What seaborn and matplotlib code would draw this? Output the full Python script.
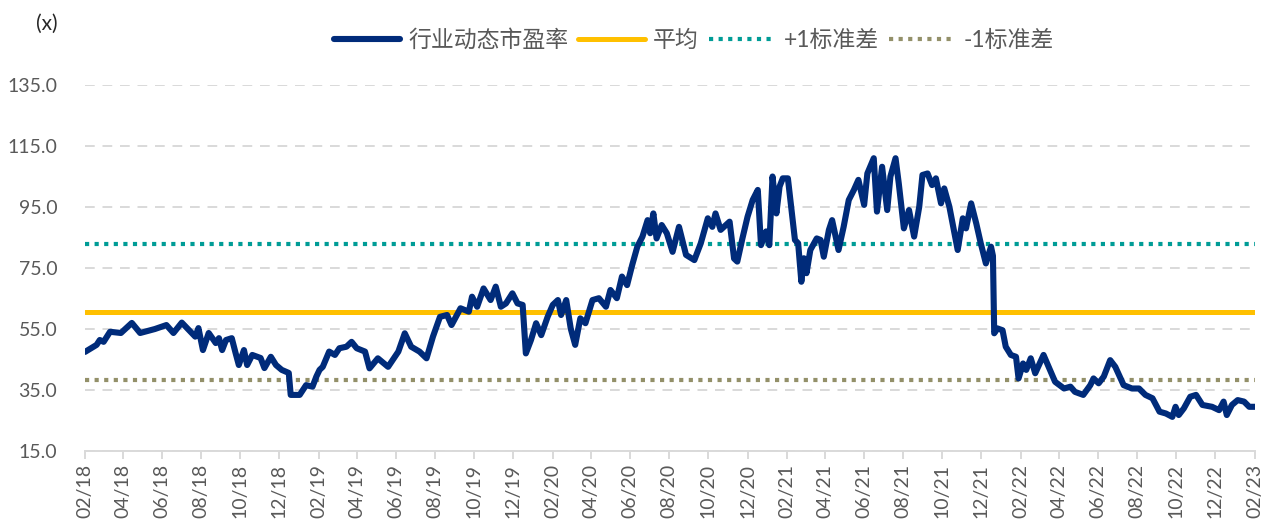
import pandas as pd
import numpy as np
import matplotlib
matplotlib.use("Agg")
import matplotlib.pyplot as plt
import matplotlib.dates as mdates
import seaborn as sns

# PE series
dates = [
    "2018-02-01", "2018-02-19", "2018-02-24", "2018-03-02", "2018-03-12", "2018-03-29", "2018-04-15",
    "2018-04-28", "2018-05-21", "2018-06-08", "2018-06-19", "2018-07-02", "2018-07-23", "2018-07-28",
    "2018-08-04", "2018-08-13", "2018-08-24", "2018-08-29", "2018-09-03", "2018-09-09", "2018-09-18",
    "2018-09-24", "2018-09-29", "2018-10-07", "2018-10-12", "2018-10-20", "2018-11-02", "2018-11-08",
    "2018-11-18", "2018-11-26", "2018-12-05", "2018-12-16", "2018-12-19", "2019-01-02", "2019-01-12",
    "2019-01-22", "2019-01-28", "2019-02-02", "2019-02-07", "2019-02-17", "2019-02-26", "2019-03-05",
    "2019-03-16", "2019-03-24", "2019-04-01", "2019-04-14", "2019-04-21", "2019-05-04", "2019-05-20",
    "2019-06-05", "2019-06-15", "2019-06-25", "2019-07-08", "2019-07-19", "2019-07-29", "2019-08-09",
    "2019-08-20", "2019-08-27", "2019-09-10", "2019-09-23", "2019-09-28", "2019-10-06", "2019-10-16",
    "2019-10-27", "2019-11-04", "2019-11-12", "2019-11-20", "2019-11-30", "2019-12-08", "2019-12-16",
    "2019-12-21", "2019-12-29", "2020-01-06", "2020-01-14", "2020-01-24", "2020-02-01", "2020-02-09",
    "2020-02-14", "2020-02-22", "2020-02-29", "2020-03-07", "2020-03-15", "2020-03-23", "2020-04-03",
    "2020-04-13", "2020-04-24", "2020-05-01", "2020-05-11", "2020-05-19", "2020-05-27", "2020-06-04",
    "2020-06-12", "2020-06-20", "2020-06-28", "2020-07-02", "2020-07-07", "2020-07-12", "2020-07-20",
    "2020-07-28", "2020-08-06", "2020-08-16", "2020-08-27", "2020-09-09", "2020-09-19", "2020-09-30",
    "2020-10-07", "2020-10-12", "2020-10-20", "2020-11-03", "2020-11-10", "2020-11-15", "2020-11-23",
    "2020-12-01", "2020-12-09", "2020-12-17", "2020-12-22", "2020-12-30", "2021-01-04", "2021-01-09",
    "2021-01-15", "2021-01-20", "2021-01-25", "2021-02-02", "2021-02-07", "2021-02-13", "2021-02-18",
    "2021-02-23", "2021-02-27", "2021-03-03", "2021-03-09", "2021-03-19", "2021-03-25", "2021-03-30",
    "2021-04-07", "2021-04-12", "2021-04-22", "2021-04-30", "2021-05-08", "2021-05-16", "2021-05-23",
    "2021-06-01", "2021-06-06", "2021-06-16", "2021-06-21", "2021-06-29", "2021-07-07", "2021-07-12",
    "2021-07-20", "2021-07-25", "2021-08-02", "2021-08-10", "2021-08-18", "2021-08-26", "2021-08-31",
    "2021-09-08", "2021-09-15", "2021-09-21", "2021-09-29", "2021-10-04", "2021-10-12", "2021-10-25",
    "2021-11-02", "2021-11-07", "2021-11-15", "2021-11-23", "2021-11-30", "2021-12-08", "2021-12-16",
    "2021-12-19", "2021-12-21", "2021-12-26", "2022-01-03", "2022-01-08", "2022-01-16", "2022-01-24",
    "2022-01-28", "2022-02-04", "2022-02-09", "2022-02-16", "2022-02-23", "2022-03-08", "2022-03-16",
    "2022-03-26", "2022-04-09", "2022-04-19", "2022-04-26", "2022-05-09", "2022-05-20", "2022-05-25",
    "2022-06-02", "2022-06-10", "2022-06-20", "2022-06-28", "2022-07-11", "2022-07-24", "2022-08-04",
    "2022-08-14", "2022-08-25", "2022-09-05", "2022-09-15", "2022-09-25", "2022-09-30", "2022-10-05",
    "2022-10-13", "2022-10-23", "2022-11-01", "2022-11-11", "2022-11-26", "2022-12-07", "2022-12-14",
    "2022-12-19", "2022-12-27", "2023-01-05", "2023-01-15", "2023-01-23", "2023-02-01",
]
pe_values = [
    47.5, 49.8, 51.4, 50.8, 54.1, 53.7, 57.0,
    53.7, 55.0, 56.3, 53.7, 57.1, 52.5, 55.3,
    48.1, 53.7, 50.4, 52.0, 48.1, 51.4, 52.0,
    47.1, 43.2, 48.1, 43.2, 46.5, 45.5, 42.2,
    45.9, 43.2, 41.6, 40.6, 33.4, 33.4, 36.6,
    36.1, 39.4, 41.6, 42.6, 47.6, 46.5, 48.7,
    49.2, 50.8, 48.7, 47.6, 42.1, 45.4, 42.6,
    47.6, 53.6, 49.2, 47.6, 45.4, 52.5, 59.0,
    59.6, 56.3, 61.8, 60.7, 65.6, 62.3, 68.3,
    64.5, 68.9, 62.3, 63.4, 66.7, 63.4, 62.9,
    47.0, 51.4, 56.9, 53.0, 59.0, 62.9, 64.5,
    59.6, 64.5, 55.2, 49.8, 58.5, 56.9, 64.5,
    65.1, 62.3, 67.8, 65.1, 72.2, 69.4, 76.0,
    82.0, 85.3, 90.7, 86.4, 92.9, 84.7, 89.1,
    86.4, 80.3, 88.5, 79.3, 77.6, 83.1, 91.3,
    88.5, 92.9, 87.5, 90.2, 78.1, 77.1, 84.7,
    91.8, 97.3, 100.6, 82.5, 87.0, 82.5, 105.0,
    92.9, 101.7, 104.4, 104.4, 95.1, 84.2, 83.1,
    70.5, 78.2, 73.3, 80.9, 84.7, 84.2, 78.7,
    87.5, 90.7, 80.9, 88.5, 97.3, 100.6, 103.9,
    95.7, 106.0, 111.0, 93.5, 108.2, 94.0, 105.0,
    111.0, 102.8, 88.0, 94.0, 85.3, 95.1, 105.5,
    106.0, 102.2, 104.4, 96.2, 101.1, 95.1, 80.9,
    91.3, 88.0, 96.2, 89.6, 83.1, 76.5, 82.0,
    79.0, 53.6, 55.2, 54.6, 49.2, 46.5, 45.9,
    38.8, 43.7, 41.6, 45.4, 40.5, 46.5, 42.6,
    37.7, 35.5, 36.1, 34.4, 33.4, 36.6, 38.8,
    37.2, 39.4, 44.8, 42.6, 36.6, 35.5, 35.5,
    33.4, 32.3, 27.9, 27.3, 26.2, 29.5, 26.8,
    29.0, 32.8, 33.4, 30.1, 29.5, 28.4, 31.2,
    26.8, 30.1, 31.7, 31.2, 29.5, 29.5,
]
pe_mean = 60.6
pe_std = 22.3

labels = ["行业动态市盈率", "平均", "+1标准差", "-1标准差"]

df = pd.DataFrame({"date": pd.to_datetime(dates), "pe": pe_values})

sns.set_theme(style="white")
plt.rcParams["font.family"] = ["Lato", "Noto Sans CJK SC", "DejaVu Sans"]

fig = plt.figure(figsize=(12.75, 5.29), dpi=100)
ax = fig.add_axes([0.0667, 0.1474, 0.9176, 0.6919])

navy = "#002B7A"
gold = "#FFC000"
teal = "#009C96"
olive = "#939069"

sns.lineplot(data=df, x="date", y="pe", ax=ax, color=navy, linewidth=4.4,
             label=labels[0], solid_joinstyle="round", solid_capstyle="round", zorder=5)
ax.axhline(pe_mean, color=gold, linewidth=3.6, label=labels[1], zorder=3,
           solid_capstyle="round")
ax.axhline(pe_mean + pe_std, color=teal, linewidth=3.0, linestyle=(0, (1, 1.3)),
           dash_capstyle="butt", label=labels[2], zorder=3)
ax.axhline(pe_mean - pe_std, color=olive, linewidth=3.0, linestyle=(0, (1, 1.3)),
           dash_capstyle="butt", label=labels[3], zorder=3)

ax.set_xlim(pd.Timestamp("2018-02-01"), pd.Timestamp("2023-02-01"))
ax.set_ylim(15, 135)
ax.set_yticks(np.arange(15, 136, 20))
ax.yaxis.set_major_formatter(matplotlib.ticker.FormatStrFormatter("%.1f"))
ax.xaxis.set_major_locator(mdates.MonthLocator(bymonth=[2, 4, 6, 8, 10, 12]))
ax.xaxis.set_major_formatter(mdates.DateFormatter("%m/%y"))

ax.grid(axis="y", color="#D9D9D9", linestyle=(0, (5, 4)), linewidth=1.4)
ax.grid(axis="x", visible=False)
for s in ["left", "right", "top"]:
    ax.spines[s].set_visible(False)
ax.spines["bottom"].set_color("#D9D9D9")
ax.spines["bottom"].set_linewidth(1.4)

ax.tick_params(axis="x", rotation=90, labelsize=14, colors="#595959", length=6,
               width=1.4, direction="out", bottom=True, color="#D9D9D9")
ax.tick_params(axis="y", labelsize=14, colors="#595959", length=0, pad=20)
ax.set_xlabel("")
ax.set_ylabel("")

ax.get_legend().remove()
handles, lbls = ax.get_legend_handles_labels()
fig.legend(handles, lbls, loc="center", bbox_to_anchor=(0.544, 0.924), ncol=4,
           frameon=False, fontsize=16.5, handlelength=2.9, handletextpad=0.35,
           columnspacing=0.45, labelcolor="#595959")

fig.text(0.028, 0.955, "(x)", fontsize=15, color="#262626", ha="left", va="center")

fig.savefig("out.png", dpi=100)
